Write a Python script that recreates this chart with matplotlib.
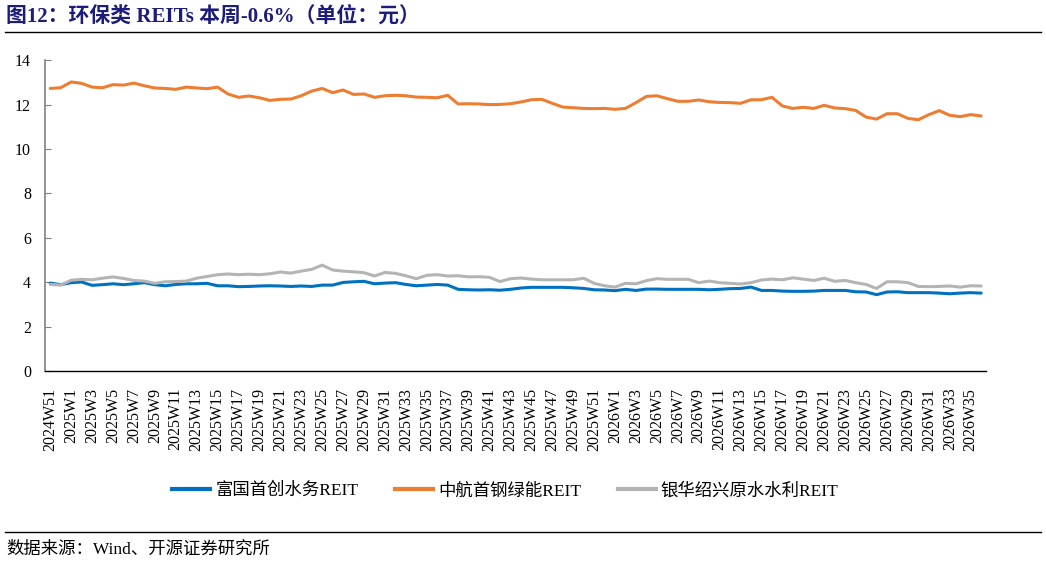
import matplotlib
matplotlib.use('Agg')
from matplotlib import pyplot as plt
from matplotlib.lines import Line2D

# 周度标签：2024W51 ~ 2026W36
weeks = (['2024W51', '2024W52']
         + ['2025W%d' % w for w in range(1, 53)]
         + ['2026W%d' % w for w in range(1, 37)])

series_names = ['富国首创水务REIT', '中航首钢绿能REIT', '银华绍兴原水水利REIT']

fuguo = [3.96, 3.89, 3.98, 4.01, 3.86, 3.89, 3.93, 3.89, 3.93, 3.98,
         3.89, 3.84, 3.90, 3.93, 3.93, 3.95, 3.84, 3.84, 3.80, 3.81,
         3.83, 3.84, 3.83, 3.81, 3.83, 3.81, 3.87, 3.87, 3.99, 4.02,
         4.04, 3.93, 3.96, 3.98, 3.90, 3.84, 3.87, 3.90, 3.87, 3.68,
         3.66, 3.65, 3.66, 3.64, 3.68, 3.74, 3.77, 3.77, 3.77, 3.77,
         3.75, 3.72, 3.66, 3.65, 3.62, 3.68, 3.63, 3.69, 3.69, 3.68,
         3.68, 3.68, 3.68, 3.66, 3.68, 3.71, 3.72, 3.78, 3.63, 3.63,
         3.60, 3.59, 3.59, 3.60, 3.63, 3.63, 3.63, 3.57, 3.56, 3.44,
         3.56, 3.57, 3.53, 3.53, 3.53, 3.51, 3.48, 3.51, 3.53, 3.51]

zhonghang = [12.73, 12.76, 13.02, 12.96, 12.79, 12.76, 12.90, 12.88, 12.97, 12.85,
             12.75, 12.73, 12.69, 12.79, 12.75, 12.72, 12.79, 12.48, 12.33, 12.39,
             12.31, 12.19, 12.24, 12.25, 12.40, 12.61, 12.73, 12.54, 12.66, 12.46,
             12.48, 12.33, 12.40, 12.42, 12.40, 12.34, 12.33, 12.31, 12.42, 12.03,
             12.04, 12.03, 12.00, 12.01, 12.04, 12.12, 12.22, 12.24, 12.06, 11.89,
             11.86, 11.83, 11.82, 11.83, 11.79, 11.83, 12.09, 12.37, 12.40, 12.27,
             12.15, 12.15, 12.21, 12.13, 12.10, 12.09, 12.06, 12.22, 12.22, 12.33,
             11.94, 11.83, 11.88, 11.83, 11.97, 11.85, 11.82, 11.74, 11.44, 11.35,
             11.59, 11.59, 11.38, 11.32, 11.55, 11.73, 11.52, 11.46, 11.55, 11.49]

yinhua = [3.90, 3.87, 4.09, 4.13, 4.11, 4.18, 4.24, 4.17, 4.08, 4.05,
          3.95, 4.02, 4.03, 4.05, 4.18, 4.26, 4.34, 4.37, 4.34, 4.36,
          4.34, 4.38, 4.46, 4.41, 4.50, 4.58, 4.77, 4.55, 4.50, 4.47,
          4.43, 4.28, 4.44, 4.40, 4.29, 4.16, 4.31, 4.34, 4.28, 4.29,
          4.24, 4.25, 4.22, 4.03, 4.16, 4.19, 4.14, 4.11, 4.11, 4.11,
          4.11, 4.18, 3.95, 3.84, 3.78, 3.95, 3.93, 4.07, 4.16, 4.13,
          4.13, 4.13, 3.98, 4.05, 3.98, 3.95, 3.92, 3.98, 4.10, 4.14,
          4.11, 4.20, 4.14, 4.08, 4.18, 4.04, 4.08, 3.98, 3.90, 3.72,
          4.02, 4.02, 3.98, 3.81, 3.80, 3.81, 3.83, 3.78, 3.84, 3.83]

colors = ['#0070C0', '#ED7D31', '#B4B4B4']

serif_cjk = ['Liberation Serif', 'Noto Sans CJK SC']
plt.rcParams['font.family'] = serif_cjk

fig = plt.figure(figsize=(10.46, 5.63), dpi=100)
ax = fig.add_axes([0.043, 0.341, 0.9, 0.552])

x = list(range(len(weeks)))
for vals, c, name in zip([fuguo, zhonghang, yinhua], colors, series_names):
    ax.plot(x, vals, color=c, lw=2.2, label=name, solid_capstyle='round')

ax.set_xlim(-0.5, len(weeks) - 0.5)
ax.set_ylim(0, 14)
ax.set_yticks(range(0, 15, 2))
ax.set_xticks(x[::2])
ax.set_xticklabels(weeks[::2], rotation=90, fontsize=11.5)
ax.tick_params(axis='y', direction='in', length=4, color='#808080', labelsize=11.5, pad=10)
ax.tick_params(axis='x', length=0, pad=12)

for s in ['top', 'right']:
    ax.spines[s].set_visible(False)
ax.spines['left'].set_color('#808080')
ax.spines['left'].set_linewidth(1.2)
ax.spines['bottom'].set_color('black')
ax.spines['bottom'].set_linewidth(1.0)

handles = [Line2D([], [], color=c, lw=3) for c in colors]
fig.legend(handles, series_names, loc='center', bbox_to_anchor=(0.483, 0.128),
           ncol=3, frameon=False, fontsize=12.5, handlelength=2.2,
           handletextpad=0.3, columnspacing=2.1)

# 标题和来源
fig.text(0.006, 0.97, '图12：环保类 REITs 本周-0.6%（单位：元）', fontsize=15,
         fontweight='bold', color='#1c1c7c', va='center', ha='left')
fig.add_artist(Line2D([0.005, 0.995], [0.943, 0.943], color='black', lw=1.0,
                      transform=fig.transFigure))
fig.add_artist(Line2D([0.005, 0.995], [0.055, 0.055], color='black', lw=1.0,
                      transform=fig.transFigure))
fig.text(0.006, 0.024, '数据来源：Wind、开源证券研究所', fontsize=12.5,
         va='center', ha='left')

fig.savefig('out.png', dpi=100)
